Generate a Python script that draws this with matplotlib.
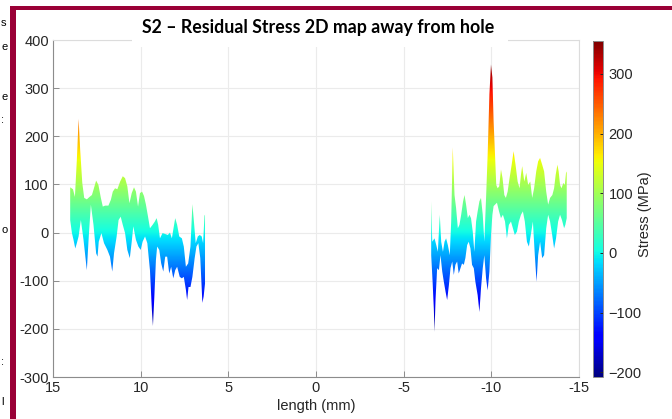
import numpy as np
import matplotlib
matplotlib.use("Agg")
import matplotlib.pyplot as plt
from matplotlib.patches import Polygon, Rectangle
from matplotlib.cm import ScalarMappable
from matplotlib.colors import Normalize

plt.rcParams['font.family'] = ['Liberation Sans', 'DejaVu Sans']

# ---------------- data ----------------
title = "S2 – Residual Stress 2D map away from hole"
x_label = "length (mm)"
cbar_label = "Stress (MPa)"
x_ticks = [15, 10, 5, 0, -5, -10, -15]
y_ticks = [-300, -200, -100, 0, 100, 200, 300, 400]
cbar_ticks = [-200, -100, 0, 100, 200, 300]
clim = [-208, 355]

# left segment (x > 0): upper envelope
left_up_x = [14.02, 13.86, 13.75, 13.64, 13.54, 13.45, 13.33, 13.22, 13.07, 12.92,
             12.78, 12.69, 12.54, 12.41, 12.27, 12.16, 12.03, 11.84, 11.70, 11.59,
             11.46, 11.33, 11.17, 11.02, 10.89, 10.76, 10.64, 10.51, 10.38, 10.27,
             10.15, 10.04, 9.92, 9.81, 9.70, 9.58, 9.47, 9.32, 9.19, 9.09,
             9.00, 8.90, 8.75, 8.60, 8.45, 8.33, 8.22, 8.14, 8.03, 7.92,
             7.80, 7.65, 7.54, 7.42, 7.29, 7.16, 7.05, 6.97, 6.86, 6.74,
             6.63, 6.52, 6.44, 6.36, 6.33]
left_up_y = [94, 90, 74, 151, 236, 172, 103, 72, 69, 74,
             78, 89, 108, 99, 72, 54, 56, 56, 68, 85,
             92, 90, 106, 117, 113, 96, 61, 82, 94, 85,
             54, 82, 85, 76, 58, 33, 9, 16, 23, 30,
             16, -12, -1, -3, -5, 0, -12, 6, 30, 16,
             -8, -12, -29, -71, -64, -29, 59, 26, -22, -8,
             -5, -8, -22, 35, 37]
# left segment: lower envelope
left_lo_x = [14.02, 13.92, 13.83, 13.73, 13.64, 13.54, 13.41, 13.26, 13.07, 12.96,
             12.84, 12.69, 12.54, 12.46, 12.39, 12.24, 12.09, 11.90, 11.75, 11.62,
             11.52, 11.37, 11.26, 11.14, 11.02, 10.89, 10.76, 10.62, 10.51, 10.42,
             10.27, 10.13, 10.00, 9.89, 9.75, 9.62, 9.47, 9.36, 9.30, 9.22,
             9.13, 9.06, 8.94, 8.83, 8.71, 8.60, 8.49, 8.37, 8.26, 8.14,
             8.03, 7.92, 7.77, 7.65, 7.54, 7.42, 7.35, 7.27, 7.16, 7.05,
             6.92, 6.82, 6.71, 6.60, 6.48, 6.41, 6.33]
left_lo_y = [26, -1, -15, -33, -22, -8, 26, -15, -78, -8,
             58, 16, -43, -50, -19, -1, -22, -36, -50, -81,
             -43, -8, 26, 33, 16, -1, -36, -53, -19, 13,
             -15, -29, -36, -19, -8, -22, -78, -161, -194, -133,
             -57, -29, -36, -64, -81, -50, -50, -85, -71, -95,
             -78, -71, -92, -95, -92, -119, -140, -113, -113, -92,
             -53, -29, -22, -53, -146, -133, -106]

# right segment (x < 0): upper envelope
right_up_x = [-6.57, -6.63, -6.76, -6.86, -6.95, -7.06, -7.14, -7.24, -7.33, -7.42,
              -7.52, -7.63, -7.71, -7.80, -7.90, -7.99, -8.09, -8.18, -8.28, -8.39,
              -8.47, -8.56, -8.66, -8.75, -8.84, -8.94, -9.03, -9.13, -9.22, -9.32,
              -9.41, -9.51, -9.60, -9.70, -9.79, -9.89, -9.98, -10.06, -10.13, -10.21,
              -10.28, -10.36, -10.45, -10.55, -10.64, -10.74, -10.83, -10.93, -11.04, -11.16,
              -11.27, -11.38, -11.50, -11.61, -11.69, -11.76, -11.88, -11.99, -12.10, -12.22,
              -12.33, -12.44, -12.56, -12.67, -12.78, -12.90, -13.01, -13.13, -13.24, -13.35,
              -13.48, -13.58, -13.67, -13.77, -13.84, -13.92, -14.00, -14.11, -14.19, -14.26,
              -14.30]
right_up_y = [65, -19, -12, -26, -40, 37, -19, -40, -19, -12,
              -26, -47, 23, 177, 78, 51, 9, 16, 37, 65,
              78, 58, 30, 37, 30, 2, -40, 23, 44, 65,
              72, 37, -19, 72, 162, 287, 349, 322, 231, 162,
              99, 92, 96, 131, 113, 78, 72, 85, 113, 141,
              169, 141, 106, 92, 120, 138, 106, 124, 99, 106,
              72, 92, 127, 148, 155, 141, 127, 85, 58, 72,
              78, 92, 120, 141, 127, 99, 92, 103, 99, 124,
              127]
# right segment: lower envelope
right_lo_x = [-6.57, -6.65, -6.72, -6.76, -6.82, -6.91, -7.01, -7.10, -7.20, -7.29,
              -7.39, -7.48, -7.58, -7.67, -7.77, -7.86, -7.95, -8.05, -8.14, -8.24,
              -8.33, -8.43, -8.52, -8.62, -8.71, -8.81, -8.90, -9.00, -9.09, -9.22,
              -9.32, -9.41, -9.51, -9.60, -9.70, -9.79, -9.89, -9.98, -10.06, -10.13,
              -10.21, -10.32, -10.44, -10.55, -10.66, -10.78, -10.89, -11.00, -11.12, -11.23,
              -11.34, -11.46, -11.57, -11.69, -11.80, -11.91, -12.03, -12.14, -12.25, -12.37,
              -12.48, -12.58, -12.67, -12.78, -12.90, -13.01, -13.13, -13.24, -13.35, -13.47,
              -13.58, -13.69, -13.81, -13.92, -14.03, -14.15, -14.22, -14.30]
right_lo_y = [-47, -102, -158, -206, -137, -74, -78, -47, -81, -102,
              -123, -140, -109, -74, -60, -88, -67, -60, -85, -74,
              -64, -67, -53, -26, -19, -33, -67, -74, -102, -130,
              -165, -116, -74, -47, -95, -120, -81, -5, 37, 55,
              58, 62, 44, 30, 37, 23, -12, 16, 23, 9,
              -5, 2, 23, 37, 44, 23, -19, -29, -5, 23,
              -47, -102, -47, -19, -53, -47, 9, 37, 23, -5,
              -33, -12, 23, 37, 26, 9, 16, 30]

# ---------------- figure ----------------
W, H = 672, 419
fig = plt.figure(figsize=(W / 100, H / 100), dpi=100)
fig.patch.set_facecolor('white')

ax_l, ax_r, ax_t, ax_b = 53, 579, 40, 377
ax = fig.add_axes([ax_l / W, 1 - ax_b / H, (ax_r - ax_l) / W, (ax_b - ax_t) / H])

cmap = plt.get_cmap('jet')
norm = Normalize(vmin=clim[0], vmax=clim[1])

grad = np.linspace(y_ticks[0], y_ticks[-1], 701).reshape(-1, 1)
for ux, uy, lx, ly in [(left_up_x, left_up_y, left_lo_x, left_lo_y),
                       (right_up_x, right_up_y, right_lo_x, right_lo_y)]:
    verts = list(zip(ux, uy)) + list(zip(lx[::-1], ly[::-1]))
    poly = Polygon(verts, closed=True, facecolor='none', edgecolor='none',
                   transform=ax.transData)
    ax.add_patch(poly)
    im = ax.imshow(grad, extent=[x_ticks[0], x_ticks[-1], y_ticks[0], y_ticks[-1]],
                   origin='lower', aspect='auto', cmap=cmap, norm=norm,
                   interpolation='bilinear', zorder=2)
    im.set_clip_path(poly)

ax.set_xlim(x_ticks[0], x_ticks[-1])
ax.set_ylim(y_ticks[0], y_ticks[-1])
ax.set_xticks(x_ticks)
ax.set_xticklabels([str(t) for t in x_ticks])
ax.set_yticks(y_ticks)
ax.set_yticklabels([str(t) for t in y_ticks])
ax.grid(True, color='#ebebeb', linewidth=0.8, zorder=0)
ax.set_axisbelow(True)
for s in ['left', 'bottom']:
    ax.spines[s].set_color('#8c8c8c')
    ax.spines[s].set_linewidth(0.8)
for s in ['top', 'right']:
    ax.spines[s].set_color('#dcdcdc')
    ax.spines[s].set_linewidth(0.8)
ax.tick_params(direction='in', length=4, width=0.7, color='#8c8c8c',
               labelsize=10.5, labelcolor='#262626', pad=3)
ax.set_xlabel(x_label, fontsize=10.5, color='#262626', labelpad=3)

# colorbar
cb_l, cb_r, cb_t, cb_b = 593, 603, 41, 377
cax = fig.add_axes([cb_l / W, 1 - cb_b / H, (cb_r - cb_l) / W, (cb_b - cb_t) / H])
cb = fig.colorbar(ScalarMappable(norm=norm, cmap=cmap), cax=cax, ticks=cbar_ticks)
cb.outline.set_edgecolor('#8c8c8c')
cb.outline.set_linewidth(0.7)
cax.tick_params(direction='in', length=2.5, width=0.7, color='#262626',
                labelsize=10.5, labelcolor='#262626', pad=4)
fig.text(645 / W, 1 - 214 / H, cbar_label, rotation=90, ha='center', va='center',
         fontsize=10.5, color='#262626')

# title with white backing
fig.add_artist(Rectangle((132 / W, 1 - 47 / H), 376 / W, 35 / H,
                         transform=fig.transFigure, facecolor='white',
                         edgecolor='none', zorder=3))
fig.text(318 / W, 1 - 28 / H, title, ha='center', va='center', fontsize=12.8,
         fontweight='bold', family=['Lato', 'DejaVu Sans'], color='black', zorder=4)

# slide frame
frame_c = '#9a0036'
fig.add_artist(Rectangle((10 / W, 0), 5.5 / W, (H - 6) / H, transform=fig.transFigure,
                         facecolor=frame_c, edgecolor='none', zorder=5))
fig.add_artist(Rectangle((10 / W, 1 - 10.5 / H), (W - 10) / W, 4.5 / H,
                         transform=fig.transFigure, facecolor=frame_c,
                         edgecolor='none', zorder=5))

# small text fragments at the far left (remnants of the neighbouring slide text)
frags = [(23, 's'), (47, 'e'), (97, 'e'), (120, ':'), (230, 'o'), (362, ':'), (402, 'l')]
for py, ch in frags:
    fig.text(1 / W, 1 - py / H, ch, ha='left', va='center', fontsize=8, color='black')

fig.savefig('out.png', dpi=100)
